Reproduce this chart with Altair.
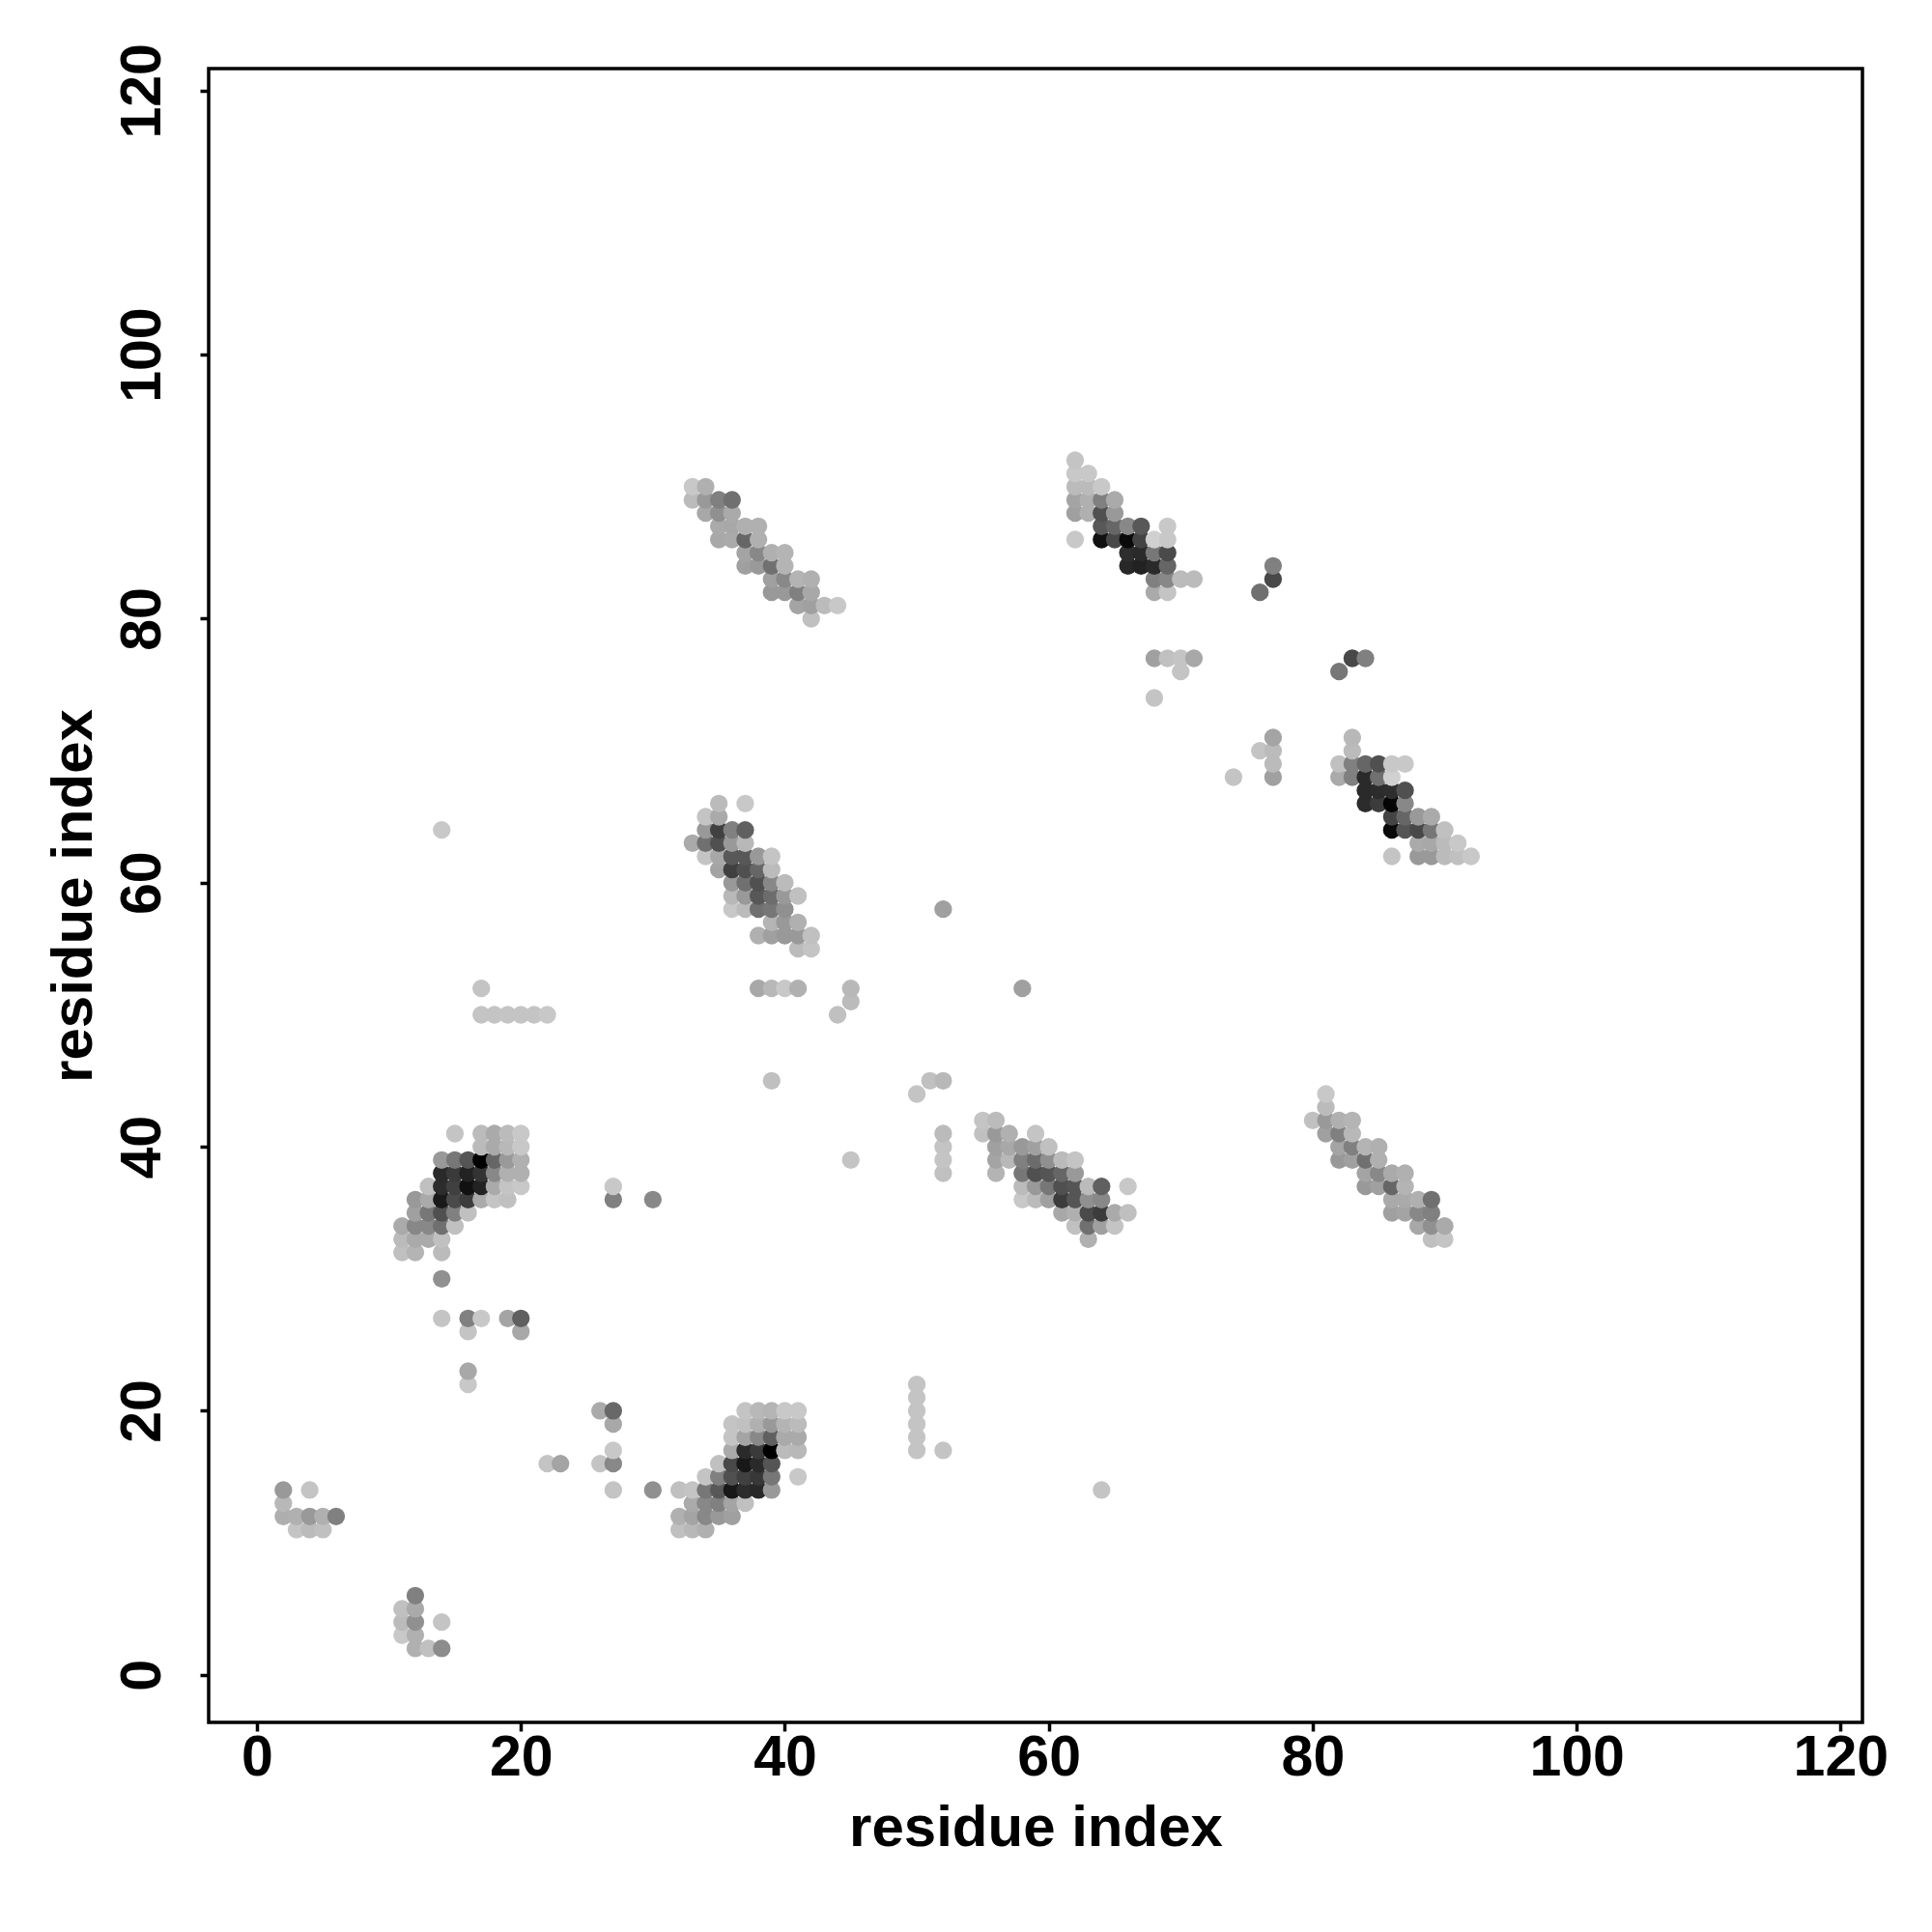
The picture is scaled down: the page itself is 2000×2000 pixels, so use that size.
import altair as alt
import pandas as pd

tick_values = [0, 20, 40, 60, 80, 100, 120]
axis_label = "residue index"

# (residue x, residue y, grey level 0-255)
corner_a = [(2,14,0x99),(4,14,0xc4),(2,13,0xb8),(2,12,0xae),(3,12,0xb0),(4,12,0x99),(5,12,0xb0),(6,12,0x80),(3,11,0xc4),(4,11,0xbb),(5,11,0xc0)]
corner_b = [(12,6,0x80),(11,5,0xc0),(12,5,0xaa),(11,4,0xbb),(12,4,0x90),(14,4,0xc4),(11,3,0xc8),(12,3,0xb0),(12,2,0xb0),(13,2,0xc0),(14,2,0x8c)]
scatter_a = [(16,22,0xc8),(16,23,0xa8),(22,16,0xc4),(23,16,0xa4),(14,30,0x90),(14,27,0xc4),(16,27,0x80),(17,27,0xc8),(19,27,0xa4),(20,27,0x60),(16,26,0xc4),(20,26,0xa8),(27,37,0xc8),(27,36,0x80),(30,36,0x88)]
scatter_b = [(26,20,0xaa),(27,20,0x68),(27,19,0xa8),(27,17,0xc8),(26,16,0xc4),(27,16,0x88),(27,14,0xc4),(30,14,0x90)]
scatter_c = [(14,64,0xc8),(17,52,0xc4),(17,50,0xc4),(18,50,0xc4),(19,50,0xc4),(20,50,0xc4),(21,50,0xc4),(22,50,0xc8),(38,52,0xa8),(39,52,0xb8),(40,52,0xc8),(41,52,0xb0),(45,52,0xb8),(45,51,0xbb),(44,50,0xc0),(52,58,0xa0),(58,52,0xa0),(39,45,0xc0),(51,45,0xc0),(52,45,0xb8),(50,44,0xc4),(45,39,0xc4)]
scatter_d = [(52,41,0xbb),(52,40,0xc4),(52,39,0xc4),(52,38,0xc0),(50,22,0xc4),(50,21,0xc4),(50,20,0xc4),(50,19,0xc4),(50,18,0xc4),(50,17,0xc4),(52,17,0xc4),(64,14,0xc4)]
scatter_e = [(68,77,0xa0),(69,77,0xc0),(70,77,0xc4),(71,77,0xa8),(70,76,0xc4),(68,74,0xc4),(77,84,0x80),(77,83,0x48),(76,82,0x70),(83,77,0x48),(84,77,0x80),(82,76,0x77),(77,71,0xa4),(77,70,0xbb),(76,70,0xc4),(77,69,0xbb),(77,68,0xa0),(74,68,0xc4)]

block_a = [
 (15,41,0xc4),(17,41,0xbb),(18,41,0xaa),(19,41,0xbb),(20,41,0xc8),(17,40,0xbb),(18,40,0xaa),(19,40,0xb8),(20,40,0xc8),
 (14,39,0x99),(15,39,0x77),(16,39,0x55),(17,39,0x00),(18,39,0x66),(19,39,0x99),(20,39,0xb0),
 (14,38,0x2a),(15,38,0x3a),(16,38,0x22),(17,38,0x33),(18,38,0x88),(19,38,0xb0),(20,38,0xb0),
 (13,37,0xc0),(14,37,0x2c),(15,37,0x40),(16,37,0x11),(17,37,0x22),(18,37,0xaa),(19,37,0xc4),(20,37,0xc8),
 (12,36,0x99),(13,36,0xaa),(14,36,0x1a),(15,36,0x4a),(16,36,0x3c),(17,36,0xaa),(18,36,0xc4),(19,36,0xc0),
 (12,35,0xa0),(13,35,0x77),(14,35,0x50),(15,35,0x80),(16,35,0xc0),
 (11,34,0xaa),(12,34,0x88),(13,34,0x88),(14,34,0x70),(15,34,0xc0),
 (11,33,0xbb),(12,33,0xaa),(13,33,0xaa),(14,33,0xc0),(11,32,0xc0),(12,32,0xb4),(14,32,0xbb)]
block_b = [
 (37,20,0xc4),(38,20,0xb8),(39,20,0xb4),(40,20,0xc8),(41,20,0xc8),
 (36,19,0xc4),(37,19,0xc0),(38,19,0xb0),(39,19,0x99),(40,19,0xb4),(41,19,0xbb),
 (36,18,0xc4),(37,18,0xa4),(38,18,0x88),(39,18,0x60),(40,18,0xaa),(41,18,0xaa),
 (36,17,0xaa),(37,17,0x2a),(38,17,0x3a),(39,17,0x00),(40,17,0xbb),(41,17,0xb8),
 (35,16,0xc0),(36,16,0x48),(37,16,0x18),(38,16,0x2a),(39,16,0x55),
 (34,15,0xc4),(35,15,0x80),(36,15,0x50),(37,15,0x40),(38,15,0x38),(39,15,0x77),(41,15,0xc8),
 (32,14,0xc0),(33,14,0xc4),(34,14,0x77),(35,14,0x58),(36,14,0x18),(37,14,0x2c),(38,14,0x28),(39,14,0x99),
 (33,13,0xaa),(34,13,0x88),(35,13,0x80),(36,13,0xa4),(37,13,0xc0),
 (32,12,0xb0),(33,12,0xa4),(34,12,0x88),(35,12,0x99),(36,12,0xa0),(32,11,0xc0),(33,11,0xb8),(34,11,0xb0)]
block_c = [
 (35,66,0xbb),(37,66,0xc8),(34,65,0xc4),(35,65,0xaa),
 (34,64,0x99),(35,64,0x40),(36,64,0x80),(37,64,0x60),
 (33,63,0xaa),(34,63,0x70),(35,63,0x50),(36,63,0x99),(37,63,0xb8),
 (34,62,0xc4),(35,62,0xa8),(36,62,0x58),(37,62,0x58),(38,62,0x99),(39,62,0xc4),
 (35,61,0xa4),(36,61,0x40),(37,61,0x50),(38,61,0x66),(39,61,0xbb),
 (36,60,0x99),(37,60,0x70),(38,60,0x50),(39,60,0x88),(40,60,0xbb),
 (36,59,0xb8),(37,59,0x99),(38,59,0x58),(39,59,0x6c),(40,59,0x99),(41,59,0xc0),
 (36,58,0xc8),(37,58,0xbb),(38,58,0x70),(39,58,0x77),(40,58,0x90),
 (39,57,0xb4),(40,57,0x99),(41,57,0xb0),
 (38,56,0xb0),(39,56,0xa0),(40,56,0x99),(41,56,0x99),(42,56,0xc0),(41,55,0xbb),(42,55,0xc4)]
block_d = [
 (33,90,0xc8),(34,90,0xb0),(33,89,0xbb),(34,89,0x99),(35,89,0x80),(36,89,0x70),
 (34,88,0xa8),(35,88,0x90),(36,88,0xaa),(35,87,0xaa),(36,87,0xa8),(37,87,0xb0),(38,87,0xb0),
 (35,86,0xa8),(36,86,0xaa),(37,86,0x66),(38,86,0xb0),(37,85,0xa4),(38,85,0x88),(39,85,0xb0),(40,85,0xb4),
 (37,84,0xa0),(38,84,0x99),(39,84,0x70),(40,84,0xb4),(39,83,0xa0),(40,83,0x88),(41,83,0xb4),(42,83,0xb0),
 (39,82,0x99),(40,82,0x99),(41,82,0x80),(42,82,0xa8),(41,81,0xa4),(42,81,0xa0),(43,81,0xbb),(44,81,0xc8),(42,80,0xc0)]
block_e = [
 (62,92,0xc4),(62,91,0xc8),(63,91,0xc8),(62,90,0xbb),(63,90,0xbb),(64,90,0xc8),
 (62,89,0xa4),(63,89,0xb0),(64,89,0x80),(65,89,0xaa),(62,88,0xa0),(63,88,0xb0),(64,88,0x50),(65,88,0x99),
 (64,87,0x58),(65,87,0x66),(66,87,0x88),(67,87,0x58),(69,87,0xc8),
 (62,86,0xc8),(64,86,0x11),(65,86,0x48),(66,86,0x0a),(67,86,0x44),(68,86,0xd0),(69,86,0xc8),
 (66,85,0x2e),(67,85,0x2a),(68,85,0x77),(69,85,0x4a),(66,84,0x28),(67,84,0x22),(68,84,0x2a),(69,84,0x66),
 (68,83,0x80),(69,83,0x88),(70,83,0xbb),(71,83,0xbb),(68,82,0xaa),(69,82,0xc4)]
block_f = [
 (83,71,0xb8),(83,70,0xbb),(82,69,0xc0),(83,69,0x80),(84,69,0x66),(85,69,0x50),(86,69,0xc8),(87,69,0xc8),
 (82,68,0xaa),(83,68,0x80),(84,68,0x2a),(85,68,0x70),(86,68,0xd0),(84,67,0x2a),(85,67,0x2c),(86,67,0x2e),(87,67,0x50),
 (84,66,0x2c),(85,66,0x3c),(86,66,0x05),(87,66,0x88),(86,65,0x44),(87,65,0x66),(88,65,0x99),(89,65,0xaa),
 (86,64,0x0a),(87,64,0x55),(88,64,0x48),(89,64,0x77),(90,64,0xc0),(88,63,0xaa),(89,63,0xa8),(90,63,0xbb),(91,63,0xc8),
 (86,62,0xc4),(88,62,0x99),(89,62,0x99),(90,62,0xbb),(91,62,0xc0),(92,62,0xc8)]
block_g = [
 (55,42,0xc4),(56,42,0xbb),(55,41,0xc0),(56,41,0x99),(57,41,0xb0),(59,41,0xc4),
 (56,40,0xa0),(57,40,0xa8),(58,40,0x99),(59,40,0xa0),(60,40,0xc0),
 (56,39,0xa4),(57,39,0xb8),(58,39,0x80),(59,39,0x6c),(60,39,0x90),(61,39,0xbb),(62,39,0xc4),
 (56,38,0xb4),(58,38,0x77),(59,38,0x50),(60,38,0x55),(61,38,0x66),(62,38,0x99),
 (58,37,0xbb),(59,37,0x99),(60,37,0x77),(61,37,0x50),(62,37,0x55),(63,37,0xbb),(64,37,0x60),(66,37,0xc8),
 (58,36,0xc8),(59,36,0xbb),(60,36,0xa0),(61,36,0x3c),(62,36,0x55),(63,36,0x90),(64,36,0x88),
 (61,35,0xa8),(62,35,0xb0),(63,35,0x4a),(64,35,0x3c),(65,35,0xaa),(66,35,0xc0),
 (62,34,0xc0),(63,34,0x70),(64,34,0xa0),(65,34,0xc4),(63,33,0xb0)]
block_h = [
 (81,44,0xc8),(81,43,0xbb),(80,42,0xc0),(81,42,0x99),(82,42,0xb0),(83,42,0xb4),(81,41,0xa0),(82,41,0x80),(83,41,0xb8),
 (82,40,0xa4),(83,40,0x80),(84,40,0xb4),(85,40,0xb0),(82,39,0x99),(83,39,0xa0),(84,39,0x70),(85,39,0xb0),
 (84,38,0xa4),(85,38,0x88),(86,38,0xaa),(87,38,0xb0),(84,37,0x99),(85,37,0xa0),(86,37,0x66),(87,37,0xb4),
 (86,36,0xaa),(87,36,0xaa),(88,36,0xb0),(89,36,0x70),(86,35,0xa0),(87,35,0xa4),(88,35,0x88),(89,35,0x80),
 (88,34,0xa8),(89,34,0x90),(90,34,0xaa),(89,33,0xc0),(90,33,0xc4)]

groups = [corner_a, corner_b, scatter_a, scatter_b, scatter_c, scatter_d, scatter_e,
          block_a, block_b, block_c, block_d, block_e, block_f, block_g, block_h]
rows = sorted(set(p for g in groups for p in g), key=lambda p: (p[0], p[1]))
df = pd.DataFrame(rows, columns=["x", "y", "g"])
df["c"] = ["#%02x%02x%02x" % (v, v, v) for v in df["g"]]

FONT = "Liberation Sans"
def axis(**kw):
    return alt.Axis(values=tick_values, grid=False, domain=False, ticks=True, tickSize=9, tickWidth=3.5,
                    tickColor="black", labelColor="black", titleColor="black",
                    labelFont=FONT, labelFontWeight="bold", labelFontSize=59,
                    titleFont=FONT, titleFontWeight="bold", titleFontSize=60,
                    title=axis_label, labelOverlap=False, format="d", **kw)

chart = (
    alt.Chart(df)
    .mark_circle(size=335, opacity=1)
    .encode(
        x=alt.X("x:Q", scale=alt.Scale(domain=[-3.66, 121.66], nice=False, zero=False),
                axis=axis(labelPadding=-2, titlePadding=14)),
        y=alt.Y("y:Q", scale=alt.Scale(domain=[-3.6, 121.67], nice=False, zero=False),
                axis=axis(labelAngle=270, labelAlign="center", labelBaseline="bottom",
                          labelPadding=30, titlePadding=11)),
        color=alt.Color("c:N", scale=None, legend=None),
    )
    .properties(
        width=1712, height=1712,
        autosize=alt.AutoSizeParams(type="none"),
        padding={"left": 208, "top": 63, "right": 60, "bottom": 200},
        background="white",
    )
    .configure_view(stroke="black", strokeWidth=3.5, fill="white")
)
chart.save("out.html", embed_options={"renderer": "svg", "actions": False})
